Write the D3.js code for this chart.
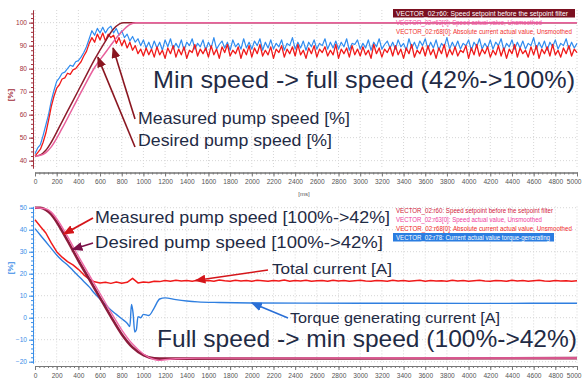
<!DOCTYPE html>
<html>
<head>
<meta charset="utf-8">
<script src="https://cdn.jsdelivr.net/npm/d3@7"></script>
<style>
  body { margin: 0; background: #fff; }
  svg { display: block; font-family: "Liberation Sans", Arial, sans-serif; }
  .tick text { font-size: 6.6px; font-family: "Liberation Sans", Arial, sans-serif; }
</style>
</head>
<body>
<svg id="chart" width="582" height="381"></svg>
<script>
// ---- data (time in ms, values in %) ----
var xTickLabels = d3.range(0, 5001, 200);
var topYTicks = [40, 50, 60, 70, 80, 90, 100];
var bottomYTicks = [-20, -10, 0, 10, 20, 30, 40, 50];

// top panel: min speed -> full speed
var topSetpointTime = [0, 50, 100, 150, 250, 350, 450, 550, 650, 720, 780, 820, 5000];
var topSetpoint = [42, 42.5, 44.5, 48, 57, 66, 75, 84, 92, 97, 99.5, 100, 100];
var topSpeedTime = [0, 50, 100, 150, 250, 350, 450, 550, 650, 720, 800, 870, 930, 5000];
var topSpeed = [42, 42.3, 43.5, 46, 54, 63, 72, 80.5, 87, 91.5, 96, 99, 100, 100];

// noisy traces sampled every 25 ms
var topBlue = [
  43, 45.5, 47, 51, 55.5, 60, 66, 70.5, 74.5, 76,
  78, 78.5, 80, 81.5, 81, 83, 83.5, 85, 87, 89.5,
  93, 96.5, 94.5, 97.5, 95.5, 98, 95.5, 97.5, 98.5, 95.5,
  97.5, 94.5, 96.5, 93.5, 95, 92, 94, 91.5, 93, 90,
  92.5, 89, 91.5, 88.5, 92, 89, 91.5, 88, 92.5, 89.5,
  93, 88.5, 91, 89, 92.5, 88, 91.5, 90, 93, 88.5,
  91, 89.5, 92.5, 88, 91.5, 89, 93.5, 88.5, 90.5, 92,
  89, 91.5, 88, 92.5, 89.5, 91, 88.5, 93, 89, 91.5,
  88.5, 92, 90, 93, 88, 91.5, 89, 92.5, 88.5, 91,
  89.5, 92.5, 88, 91, 90, 93.5, 88.5, 91.5, 89, 92,
  88, 91.5, 89.5, 92.5, 88.5, 91, 90, 93, 88.5, 91.5,
  89, 92, 88.5, 91.5, 89.5, 93, 88, 91, 90.5, 92.5,
  88.5, 91, 89, 92.5, 88, 91.5, 89.5, 93, 88.5, 90.5,
  92, 89, 91.5, 88.5, 92.5, 89.5, 91, 88, 93, 89,
  91.5, 88.5, 92, 90, 93, 88.5, 91.5, 89, 92.5, 88,
  91, 89.5, 93.5, 88.5, 91.5, 89, 92, 88.5, 91, 90,
  92.5, 88, 91.5, 89.5, 93, 88.5, 91, 89, 92.5, 88.5,
  91.5, 90, 93, 88, 91, 89.5, 92.5, 88.5, 91.5, 89,
  92, 88.5, 91, 90, 93.5, 88.5, 91.5, 89, 92, 88,
  91.5, 89.5, 92.5, 88.5, 91, 90, 93, 88.5, 91.5, 89,
  91
];
var topRed = [
  42, 43.5, 45, 48, 52, 57.5, 63.5, 68, 71.5, 73,
  75.5, 76, 78, 77.5, 79.5, 80, 81.5, 83, 85.5, 87.5,
  91, 93.5, 91.5, 95, 92.5, 95.5, 92, 95, 93.5, 94.5,
  91, 93.5, 90, 92.5, 89, 91.5, 88, 90, 86.5, 88.5,
  85.5, 89, 86, 88.5, 85, 89.5, 86, 88, 84.5, 89,
  86.5, 90, 85, 88.5, 86, 89.5, 84.5, 88, 87, 90.5,
  85.5, 88.5, 86.5, 89, 85, 90, 86, 88.5, 84.5, 89.5,
  87, 90.5, 85.5, 88, 86.5, 89.5, 84.5, 88.5, 86, 90,
  85, 89, 86.5, 90.5, 85.5, 88, 86, 89.5, 84.5, 88.5,
  87, 90, 85, 88.5, 86.5, 89.5, 85.5, 90.5, 86, 88,
  84.5, 89, 86.5, 90, 85, 88.5, 87, 89.5, 85.5, 88,
  86, 90.5, 84.5, 88.5, 86.5, 89, 85, 90, 86, 88.5,
  85.5, 89.5, 86, 88, 84.5, 90.5, 86.5, 89, 85, 88.5,
  87, 89.5, 85.5, 90, 86, 88.5, 84.5, 89, 86.5, 90.5,
  85, 88, 86.5, 89.5, 85.5, 90, 86, 88.5, 84.5, 89,
  86.5, 90.5, 85, 88.5, 86, 89.5, 85.5, 88, 87, 90,
  84.5, 89, 86, 90.5, 85.5, 88.5, 86.5, 89.5, 85, 88,
  86, 90, 85.5, 89, 84.5, 88.5, 86.5, 90.5, 85, 89,
  86.5, 88, 85, 89.5, 86, 90, 84.5, 88.5, 86.5, 89.5,
  85.5, 90.5, 86, 88, 85, 89, 86.5, 90, 85.5, 88.5,
  87
];

// bottom panel: full speed -> min speed
var botSetpointTime = [0, 50, 100, 150, 200, 300, 400, 500, 600, 700, 800, 900, 1000, 1100, 1200, 5000];
var botSetpoint = [50, 50, 49, 47, 43.5, 35, 26, 17.5, 9, 0.5, -7.5, -13.5, -17, -18.5, -18.6, -18.4];
var botSpeedTime = [0, 100, 150, 200, 300, 400, 500, 600, 700, 800, 900, 1000, 1100, 1150, 1200, 1300, 1500, 5000];
var botSpeed = [50, 49.5, 48, 45, 37, 28, 19.5, 11, 2.5, -5.5, -12, -16.5, -19, -19.4, -19.1, -18.7, -18.4, -18.3];

// total current sampled every 50 ms
var botCurrent = [
  44.5, 41.5, 38.5, 34, 30, 27.5, 25.5, 24, 22, 19.5,
  17.5, 16.3, 15.8, 16.1, 15.6, 16.2, 15.7, 16.1, 17.9, 15.8,
  16.2, 16, 16.6, 16.4, 16.9, 16.6, 17, 16.7, 16.9, 16.6,
  17, 16.7, 16.9, 16.6, 17.1, 16.8, 16.6, 17, 16.7, 16.9,
  16.6, 17, 16.8, 16.6, 16.9, 16.7, 17.1, 16.6, 16.9, 16.7,
  17, 16.6, 16.8, 16.9, 16.6, 17, 16.7, 16.9, 16.6, 16.8,
  17, 16.7, 16.6, 16.9, 16.8, 16.6, 17, 16.7, 16.9, 16.6,
  16.8, 17, 16.6, 16.9, 16.7, 16.8, 16.6, 17, 16.7, 16.9,
  16.6, 16.8, 17, 16.7, 16.6, 16.9, 16.8, 16.6, 17, 16.7,
  16.9, 16.6, 16.8, 17, 16.7, 16.6, 16.9, 16.7, 16.8, 16.6,
  16.8
];
var botTorqueTime = [0, 50, 100, 150, 200, 250, 300, 350, 400, 450, 500, 550, 600, 650, 700, 750, 800, 850, 875, 890, 905, 920, 935, 950, 975, 1000, 1050, 1100, 1150, 1200, 1300, 1400, 1500, 1700, 2000, 3000, 4000, 5000];
var botTorque = [40.5, 37.5, 34.5, 31.5, 28.5, 26, 24, 21.5, 19, 16.5, 14, 11, 8.5, 6, 3.5, 1.5, -0.5, -2.5, -4, 6, 2, -6.5, -5.5, 0.5, 0, 1.5, 1, 4.5, 8.5, 9, 8.2, 7.6, 7.2, 6.9, 6.7, 6.6, 6.5, 6.6];

var topLegend = [
  "VECTOR_02:r60: Speed setpoint before the setpoint filter",
  "VECTOR_02:r63[0]: Speed actual value, Unsmoothed",
  "VECTOR_02:r68[0]: Absolute current actual value, Unsmoothed"
];
var botLegend = [
  "VECTOR_02:r60: Speed setpoint before the setpoint filter",
  "VECTOR_02:r63[0]: Speed actual value, Unsmoothed",
  "VECTOR_02:r68[0]: Absolute current actual value, Unsmoothed",
  "VECTOR_02:r78: Current actual value torque-generating"
];

// ---- drawing ----
var svg = d3.select("#chart");
var left = 35, right = 577;

var x = d3.scaleLinear().domain([0, 5000]).range([left, right]);
var yTop = d3.scaleLinear().domain([36.8, 105.5]).range([168, 10]);
var yBot = d3.scaleLinear().domain([-20.6, 50.6]).range([363, 206.4]);

var defs = svg.append("defs");
function marker(id, color) {
  defs.append("marker")
    .attr("id", id).attr("markerUnits", "userSpaceOnUse")
    .attr("markerWidth", 11).attr("markerHeight", 9)
    .attr("refX", 10).attr("refY", 4.5).attr("orient", "auto")
    .append("path").attr("d", "M0,0 L11,4.5 L0,9 Z").attr("fill", color);
}
marker("arDark", "#8a1620");
marker("arRed", "#d4151a");
marker("arPurple", "#7a1048");
marker("arBlue", "#2a6fd6");

function grid(y, yVals) {
  var g = svg.append("g").attr("class", "grid");
  var r = y.range();
  g.selectAll("line.v").data(xTickLabels).enter().append("line")
    .attr("x1", d => x(d)).attr("x2", d => x(d))
    .attr("y1", r[1]).attr("y2", r[0])
    .attr("stroke", "#d6d6d6").attr("stroke-dasharray", "1,2");
  g.selectAll("line.h").data(yVals).enter().append("line")
    .attr("x1", left).attr("x2", right)
    .attr("y1", d => y(d)).attr("y2", d => y(d))
    .attr("stroke", "#d6d6d6").attr("stroke-dasharray", "1,2");
}
grid(yTop, topYTicks);
grid(yBot, bottomYTicks);

function xAxis(yPos) {
  var minor = svg.append("g").attr("transform", "translate(0," + yPos + ")")
    .call(d3.axisBottom(x).tickValues(d3.range(0, 5001, 40)).tickSize(2).tickSizeOuter(0).tickFormat(""));
  minor.selectAll("line,path").attr("stroke", "#777");
  var g = svg.append("g").attr("transform", "translate(0," + yPos + ")")
    .call(d3.axisBottom(x).tickValues(xTickLabels).tickSize(4).tickSizeOuter(0).tickPadding(3).tickFormat(d3.format("d")));
  g.selectAll("line,path").attr("stroke", "#777");
  g.selectAll("text").attr("fill", "#555");
  // keep the last label inside the page
  g.selectAll(".tick").filter(d => d === 5000).select("text")
    .attr("text-anchor", "end").attr("dx", 4);
}
xAxis(172.5);
xAxis(366);

function yAxis(y, vals, color, minorStep) {
  var d = y.domain();
  var minor = svg.append("g").attr("transform", "translate(" + (left - 2) + ",0)")
    .call(d3.axisLeft(y).tickValues(d3.range(Math.ceil(d[0] / minorStep) * minorStep, d[1], minorStep)).tickSize(2).tickSizeOuter(0).tickFormat(""));
  minor.selectAll("line,path").attr("stroke", color);
  var g = svg.append("g").attr("transform", "translate(" + (left - 2) + ",0)")
    .call(d3.axisLeft(y).tickValues(vals).tickSize(4).tickSizeOuter(0).tickPadding(2));
  g.selectAll("line,path").attr("stroke", color);
  g.selectAll("text").attr("fill", color);
}
yAxis(yTop, topYTicks, "#a3303c", 2);
yAxis(yBot, bottomYTicks, "#3a8ee8", 2);

svg.append("text").attr("transform", "translate(13,95) rotate(-90)")
  .attr("text-anchor", "middle").attr("font-size", 8).attr("font-weight", "bold")
  .attr("fill", "#a3303c").text("[%]");
svg.append("text").attr("transform", "translate(13,268) rotate(-90)")
  .attr("text-anchor", "middle").attr("font-size", 8).attr("font-weight", "bold")
  .attr("fill", "#3a8ee8").text("[%]");
svg.append("text").attr("x", 304).attr("y", 196).attr("text-anchor", "middle")
  .attr("font-size", 6).attr("fill", "#555").text("[ms]");

function drawLine(times, vals, y, color, width, curve) {
  var pts = times.map((t, i) => [t, vals[i]]);
  svg.append("path").datum(pts)
    .attr("fill", "none").attr("stroke", color).attr("stroke-width", width)
    .attr("stroke-linejoin", "round")
    .attr("d", d3.line().x(d => x(d[0])).y(d => y(d[1])).curve(curve || d3.curveLinear));
}
var noiseTimes = d3.range(0, 5001, 25);
var currentTimes = d3.range(0, 5001, 50);

// top panel traces
drawLine(noiseTimes, topBlue, yTop, "#2f8cf0", 1.2);
drawLine(noiseTimes, topRed, yTop, "#f01a1a", 1.3);
drawLine(topSetpointTime, topSetpoint, yTop, "#8c1c2c", 1.5, d3.curveMonotoneX);
drawLine(topSpeedTime, topSpeed, yTop, "#e8609c", 1.5, d3.curveMonotoneX);

// bottom panel traces
drawLine(currentTimes, botCurrent, yBot, "#f01a1a", 1.5);
drawLine(botTorqueTime, botTorque, yBot, "#2f7fe0", 1.4, d3.curveMonotoneX);
drawLine(botSetpointTime, botSetpoint, yBot, "#8c1c3c", 2.6, d3.curveMonotoneX);
drawLine(botSpeedTime, botSpeed, yBot, "#ee6aa8", 1.4, d3.curveMonotoneX);

// legends
function legend(rows, y0, colors, boxes, lens) {
  rows.forEach(function (txt, i) {
    var yy = y0 + i * 9;
    var b = boxes[i];
    if (b) {
      svg.append("rect").attr("x", 393).attr("y", yy - 6.5).attr("width", b.w).attr("height", 8.5).attr("fill", b.fill);
    }
    svg.append("text").attr("x", 396).attr("y", yy).attr("font-size", 6.5)
      .attr("textLength", lens[i]).attr("lengthAdjust", "spacingAndGlyphs")
      .attr("fill", b ? "#fff" : colors[i]).text(txt);
  });
}
legend(topLegend, 15.5, ["#fff", "#f050a0", "#f03030"], [{ w: 182, fill: "#7b1020" }], [172, 146, 176]);
legend(botLegend, 212.5, ["#d0203a", "#f040a0", "#f02828", "#fff"], [null, null, null, { w: 161, fill: "#2a7de1" }], [157, 146, 176, 154]);

// annotations
var ink = "#1f2b45";
function label(txt, px, py, size, len) {
  svg.append("text").attr("x", px).attr("y", py).attr("font-size", size)
    .attr("textLength", len).attr("lengthAdjust", "spacingAndGlyphs")
    .attr("fill", ink).text(txt);
}
function arrow(x1, y1, t, v, y, color, id, w) {
  svg.append("line").attr("x1", x1).attr("y1", y1).attr("x2", x(t)).attr("y2", y(v))
    .attr("stroke", color).attr("stroke-width", w || 1.6).attr("marker-end", "url(#" + id + ")");
}

label("Min speed -> full speed (42%->100%)", 153, 88, 24, 422);
label("Measured pump  speed [%]", 138, 124, 16.5, 212);
label("Desired pump  speed [%]", 138, 146, 16.5, 194);
arrow(135, 119, 720, 89, yTop, "#8a1620", "arDark");
arrow(135, 147, 580, 85, yTop, "#8a1620", "arDark");

label("Measured pump speed [100%->42%]", 95, 223, 17, 295);
label("Desired pump  speed [100%->42%]", 95, 248, 17, 288);
label("Total current [A]", 272, 274, 15, 120);
label("Torque generating current [A]", 290, 323, 15, 210);
label("Full speed -> min speed (100%->42%)", 157, 347, 24.5, 420);
arrow(93, 218, 265, 38, yBot, "#d4151a", "arRed", 1.8);
arrow(93, 243, 345, 31, yBot, "#7a1048", "arPurple", 1.8);
arrow(268, 270, 1480, 16.9, yBot, "#d4151a", "arRed", 1.6);
arrow(288, 318, 2000, 6.7, yBot, "#2a6fd6", "arBlue", 1.6);
</script>
</body>
</html>
